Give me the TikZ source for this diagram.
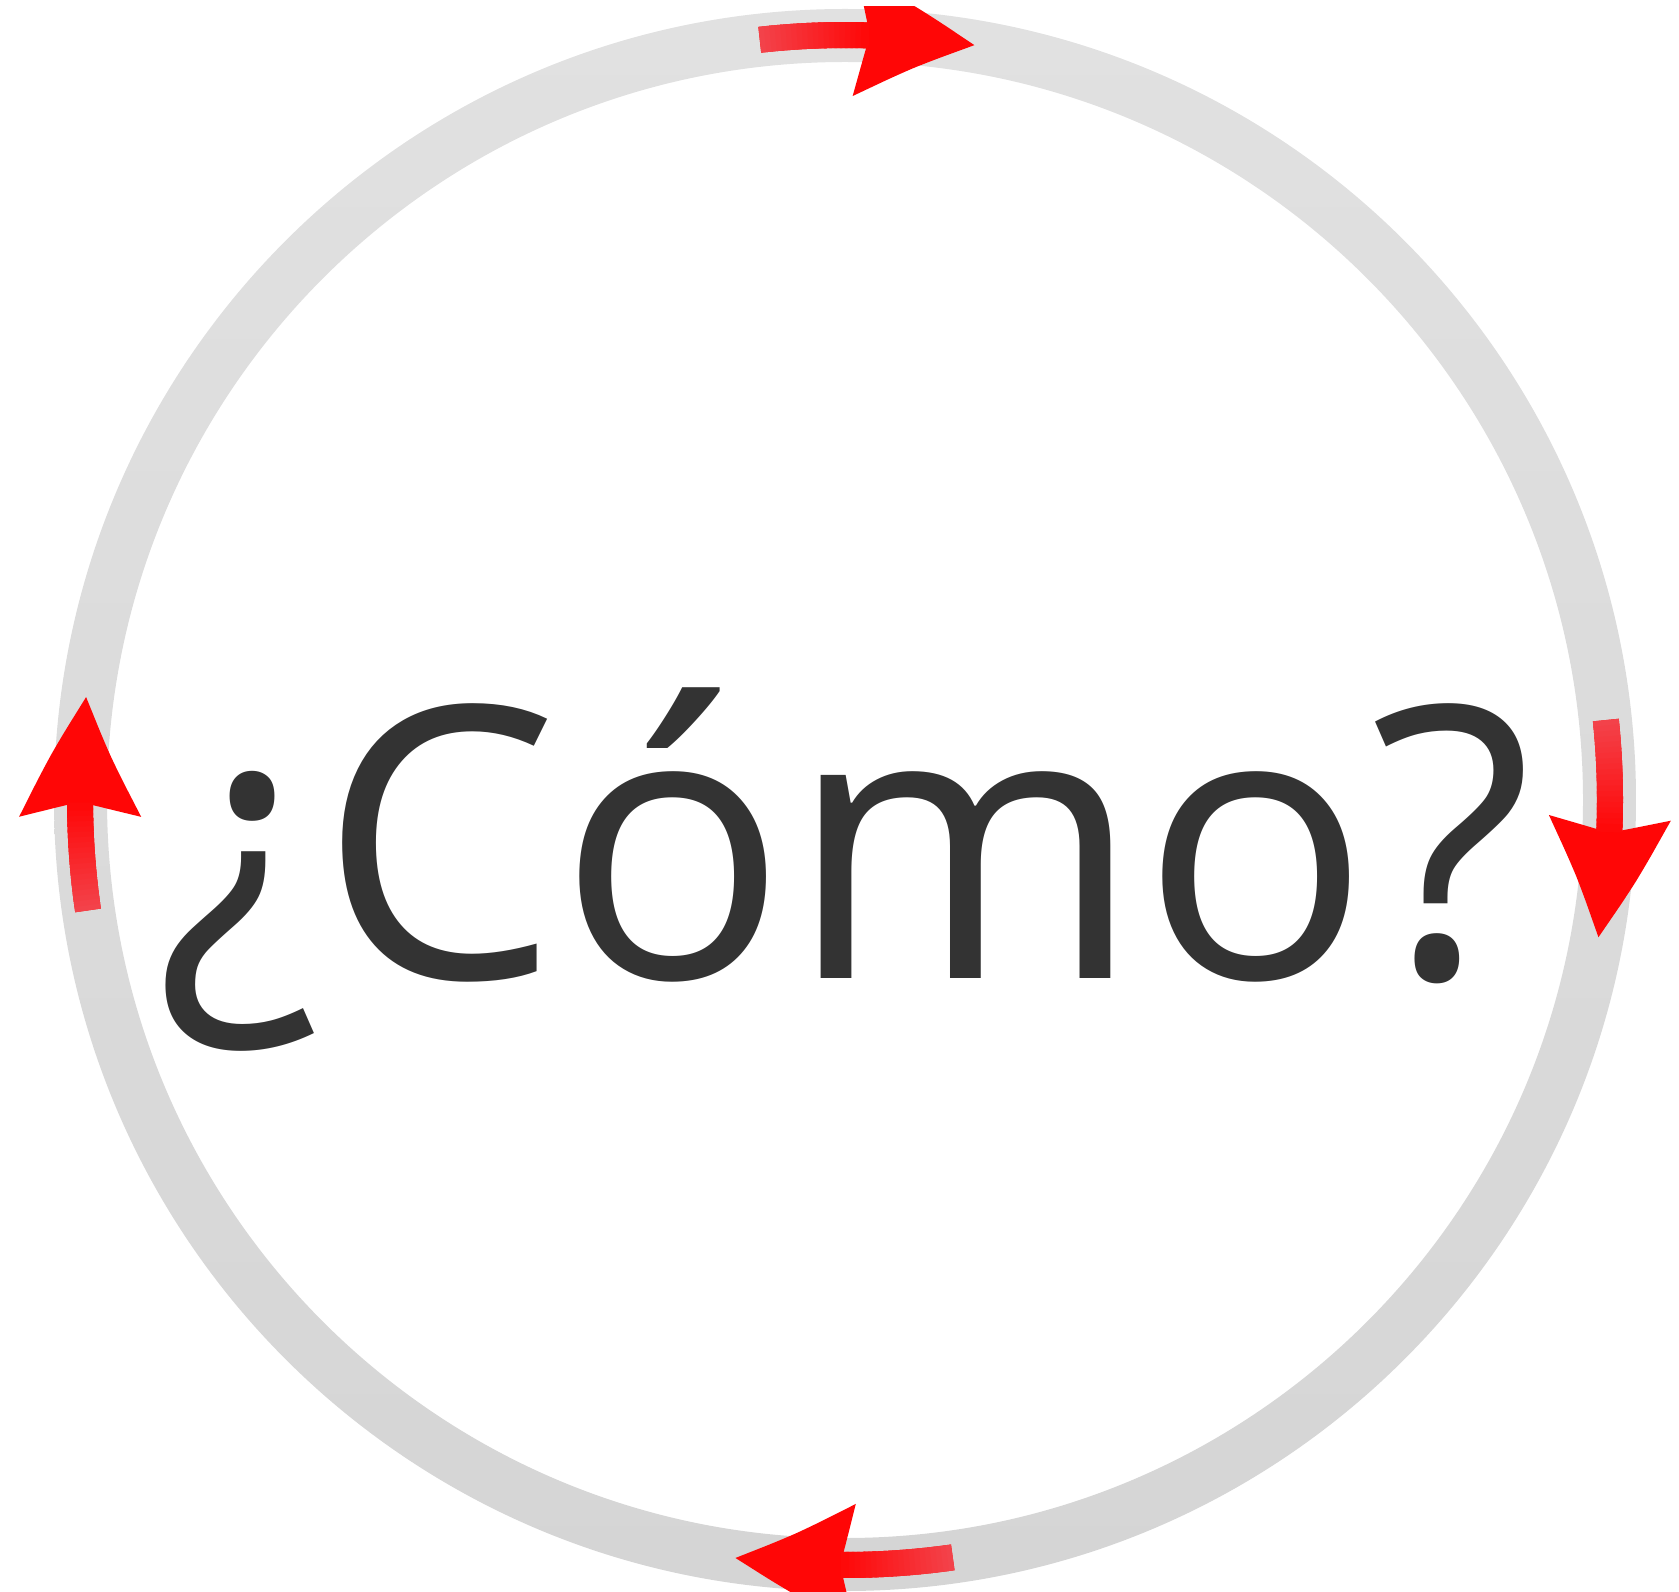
\documentclass[tikz,border=0pt]{standalone}
\usepackage{fontspec}
\newfontfamily\comofont{Open Sans}
\usetikzlibrary{arrows.meta,bending,calc}
\definecolor{ringtop}{RGB}{225,225,225}
\definecolor{ringbot}{RGB}{213,213,213}
\definecolor{headred}{RGB}{255,6,6}
\definecolor{tailred}{RGB}{243,66,74}
\definecolor{textgray}{RGB}{51,51,51}

\begin{document}
\begin{tikzpicture}[x=0.1mm, y=0.1mm,
  ring/.style={top color=ringtop, bottom color=ringbot, even odd rule},
  arr/.style={draw=headred, line width=2.6mm, line cap=butt, -{Stealth[length=11.8mm, width=11.5mm, inset=1.2mm, bend]}},
  shaft/.style={line width=2.6mm, line cap=butt},
  word/.style={font=\comofont\fontsize{108pt}{116pt}\selectfont, text=textgray, inner sep=0pt}
]
\useasboundingbox (0,0) rectangle (1679,1591);
\clip (0,0) rectangle (1679,1584);
\coordinate (c) at (845,791);
% gray ring
\shade[ring] (c) circle[radius=791] (c) circle[radius=738];
% four red arrows, clockwise
\foreach \a/\b in {96.4/80.2, 6/-10.4, -81.9/-98.3, 188.3/172.2}{
  \draw[arr] ($(c)+(\a:765)$) arc[start angle=\a, end angle=\b, radius=765];
  % lighter toward the tail
  \pgfmathsetmacro\s{(\b+8.2-\a)/20}
  \foreach \i in {0,...,19}{
    \pgfmathsetmacro\u{\a+\i*\s}
    \pgfmathsetmacro\v{\a+(\i+1)*\s+0.5*\s}
    \pgfmathtruncatemacro\p{100-\i*5}
    \draw[shaft, draw=tailred!\p!headred] ($(c)+(\u:765)$) arc[start angle=\u, end angle=\v, radius=765];
  }
}
% question
\node[word, anchor=base] (como) at (845,613) {¿Cómo?};
\end{tikzpicture}
\end{document}
